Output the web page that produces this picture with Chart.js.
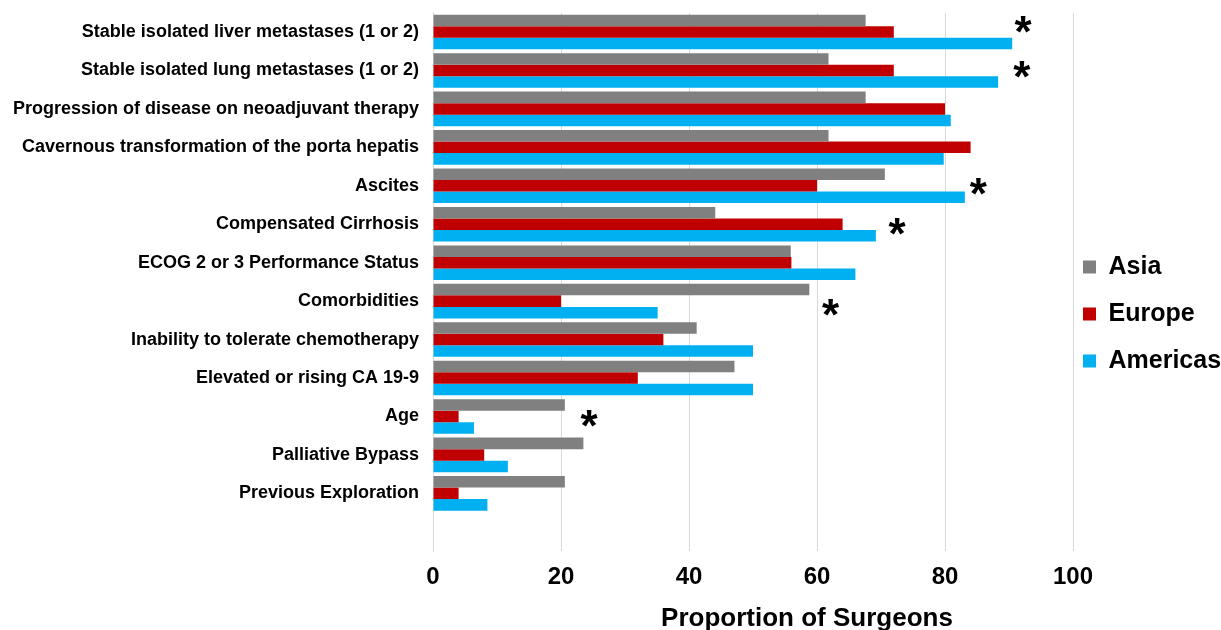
<!DOCTYPE html>
<html>
<head>
<meta charset="utf-8">
<script src="https://cdn.jsdelivr.net/npm/chart.js@4/dist/chart.umd.min.js"></script>
<style>
  html, body { margin: 0; padding: 0; background: #fff; }
  #wrap { width: 1221px; height: 630px; position: relative; }
</style>
</head>
<body>
<div id="wrap"><canvas id="chart"></canvas></div>
<script>
// categories, top to bottom (last one is an empty slot like the original)
const categories = [
  'Stable isolated liver metastases (1 or 2)',
  'Stable isolated lung metastases (1 or 2)',
  'Progression of disease on neoadjuvant therapy',
  'Cavernous transformation of the porta hepatis',
  'Ascites',
  'Compensated Cirrhosis',
  'ECOG 2 or 3 Performance Status',
  'Comorbidities',
  'Inability to tolerate chemotherapy',
  'Elevated or rising CA 19-9',
  'Age',
  'Palliative Bypass',
  'Previous Exploration',
  ''
];

const asia     = [67.6, 61.8, 67.6, 61.8, 70.6, 44.1, 55.9, 58.8, 41.2, 47.1, 20.6, 23.5, 20.6, null];
const europe   = [72, 72, 80, 84, 60, 64, 56, 20, 36, 32, 4, 8, 4, null];
const americas = [90.5, 88.3, 80.9, 79.8, 83.1, 69.2, 66.0, 35.1, 50.0, 50.0, 6.4, 11.7, 8.5, null];

const xTicks = [0, 20, 40, 60, 80, 100];

// significance markers: category index and x value where the * sits
const starRows   = [0, 1, 4, 5, 7, 10];
const starValues = [92.2, 92.0, 85.2, 72.5, 62.1, 24.4];

const FONT = '"Liberation Sans", Arial, Helvetica, sans-serif';

// draws the asterisks and the x-axis title
const extras = {
  id: 'extras',
  afterDraw(chart) {
    const { ctx, scales, chartArea } = chart;
    const nudge = [-8, -1, 1, 2, 6, 2];
    ctx.save();
    ctx.fillStyle = '#000';
    ctx.font = 'bold 44px ' + FONT;
    ctx.textAlign = 'center';
    ctx.textBaseline = 'alphabetic';
    const m = ctx.measureText('*');
    const mid = (m.actualBoundingBoxAscent - m.actualBoundingBoxDescent) / 2;
    starRows.forEach((row, i) => {
      const x = scales.x.getPixelForValue(starValues[i]);
      const y = scales.y.getPixelForValue(row) + nudge[i];
      ctx.fillText('*', x, y + mid);
    });

    ctx.font = 'bold 26px ' + FONT;
    ctx.textBaseline = 'middle';
    ctx.fillText('Proportion of Surgeons', (chartArea.left + chartArea.right) / 2 + 54, 619);
    ctx.restore();
  }
};

new Chart(document.getElementById('chart'), {
  type: 'bar',
  data: {
    labels: categories,
    datasets: [
      { label: 'Asia', data: asia, backgroundColor: '#808080' },
      { label: 'Europe', data: europe, backgroundColor: '#C00000' },
      { label: 'Americas', data: americas, backgroundColor: '#00B0F0' }
    ]
  },
  options: {
    indexAxis: 'y',
    responsive: true,
    maintainAspectRatio: false,
    animation: false,
    layout: { padding: { top: 10, bottom: 0, left: 0, right: 0 } },
    datasets: {
      bar: { categoryPercentage: 0.9, barPercentage: 1.0 }
    },
    plugins: {
      legend: {
        position: 'right',
        maxWidth: 148,
        labels: {
          color: '#000',
          font: { family: FONT, size: 25, weight: 'bold', lineHeight: 1.48 },
          boxWidth: 13,
          boxHeight: 13,
          padding: 10,
          // one-line arrays so the row height follows the font line height
          generateLabels: (chart) =>
            Chart.defaults.plugins.legend.labels.generateLabels(chart)
              .map((item) => ({ ...item, text: [item.text] }))
        }
      },
      tooltip: { enabled: false }
    },
    scales: {
      x: {
        min: 0,
        max: 100,
        afterBuildTicks: (scale) => {
          scale.ticks = xTicks.map((v) => ({ value: v }));
        },
        afterFit: (scale) => { scale.height = 79; },
        grid: { color: '#d9d9d9', drawTicks: false },
        border: { display: false },
        ticks: {
          color: '#000',
          padding: 12,
          font: { family: FONT, size: 24, weight: 'bold' },
          maxRotation: 0
        }
      },
      y: {
        // tick marks hidden, their length keeps the labels off the axis
        grid: { display: false, drawTicks: true, tickLength: 12 },
        border: { display: true, color: '#d9d9d9' },
        afterFit: (scale) => { scale.width = 433; },
        ticks: {
          color: '#000',
          padding: 2,
          autoSkip: false,
          font: { family: FONT, size: 18, weight: 'bold' }
        }
      }
    }
  },
  plugins: [extras]
});
</script>
</body>
</html>
